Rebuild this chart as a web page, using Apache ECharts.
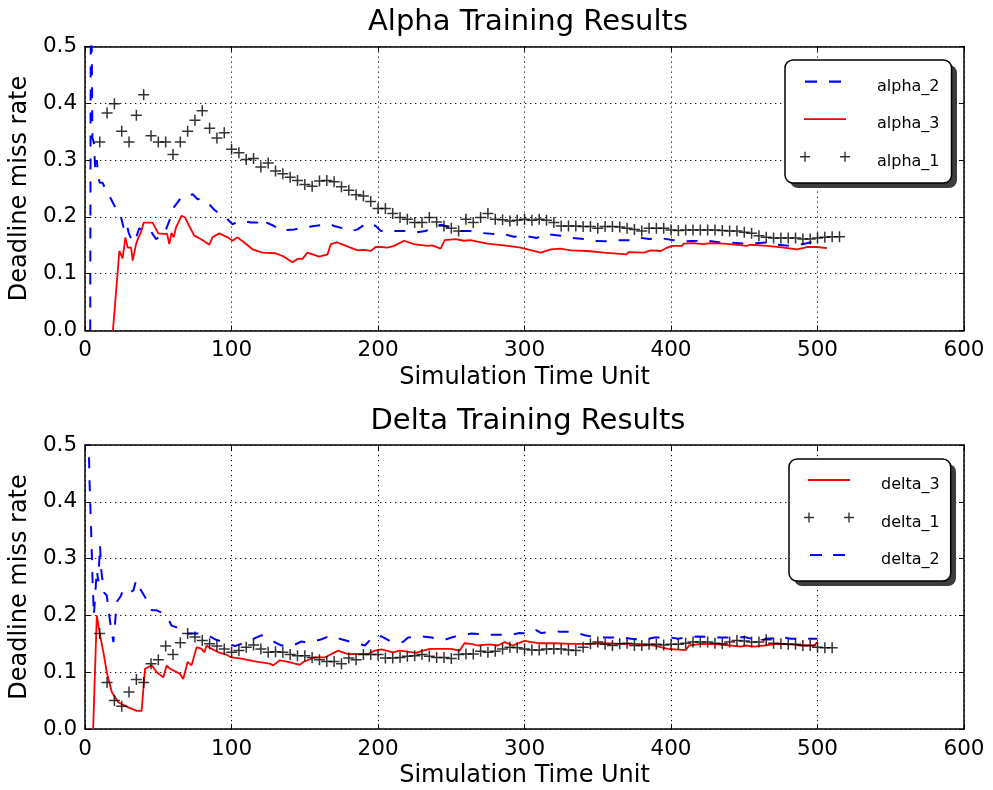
<!DOCTYPE html>
<html>
<head>
<meta charset="utf-8">
<script src="https://cdn.jsdelivr.net/npm/echarts@6/dist/echarts.min.js"></script>
<style>
  html, body { margin: 0; padding: 0; background: #fff; }
  #chart { width: 993px; height: 790px; }
</style>
</head>
<body>
<div id="chart"></div>
<script>
// ---------- Alpha run ----------
const alpha1Time = [
  10, 15, 20, 25, 30, 35, 40, 45, 50, 55,
  60, 65, 70, 75, 80, 85, 90, 95, 100, 105,
  110, 115, 120, 125, 130, 135, 140, 145, 150, 155,
  160, 165, 170, 175, 180, 185, 190, 195, 200, 205,
  210, 215, 220, 225, 230, 235, 240, 245, 250, 255,
  260, 265, 270, 275, 280, 285, 290, 295, 300, 305,
  310, 315, 320, 325, 330, 335, 340, 345, 350, 355,
  360, 365, 370, 375, 380, 385, 390, 395, 400, 405,
  410, 415, 420, 425, 430, 435, 440, 445, 450, 455,
  460, 465, 470, 475, 480, 485, 490, 495, 500, 505,
  510, 515
];
const alpha1Rate = [
  0.332, 0.383, 0.399, 0.351, 0.332, 0.379, 0.415, 0.343, 0.332, 0.332,
  0.310, 0.332, 0.351, 0.370, 0.387, 0.356, 0.339, 0.348, 0.319, 0.313,
  0.301, 0.303, 0.288, 0.295, 0.281, 0.276, 0.270, 0.264, 0.257, 0.254,
  0.263, 0.264, 0.262, 0.253, 0.247, 0.239, 0.237, 0.227, 0.215, 0.215,
  0.206, 0.199, 0.196, 0.190, 0.190, 0.199, 0.191, 0.184, 0.180, 0.175,
  0.196, 0.190, 0.199, 0.206, 0.196, 0.195, 0.193, 0.194, 0.196, 0.194,
  0.196, 0.194, 0.190, 0.184, 0.184, 0.184, 0.183, 0.183, 0.180, 0.183,
  0.183, 0.182, 0.180, 0.178, 0.175, 0.180, 0.180, 0.180, 0.177, 0.176,
  0.177, 0.177, 0.177, 0.177, 0.177, 0.176, 0.175, 0.175, 0.173, 0.171,
  0.167, 0.164, 0.163, 0.163, 0.163, 0.163, 0.161, 0.161, 0.163, 0.164,
  0.165, 0.165
];
// [time, miss rate]
const alpha2 = [
  [3.5, 0], [4, 0.7], [5, 0.34], [6, 0.33], [7, 0.28], [8, 0.30], [9, 0.27], [10, 0.26],
  [12, 0.26], [14.5, 0.245], [17, 0.235], [19, 0.225], [22, 0.21], [24, 0.205], [26.4, 0.18],
  [28, 0.19], [30, 0.17], [32.5, 0.155], [35, 0.165], [37, 0.18], [40, 0.175], [44, 0.178],
  [48.4, 0.161], [51, 0.165], [54, 0.17], [57.5, 0.193], [60, 0.215], [63, 0.225], [65.5, 0.234],
  [70, 0.235], [73.4, 0.240], [76.8, 0.231], [80, 0.232], [84.8, 0.222], [88, 0.213], [92, 0.205],
  [96, 0.199], [100.7, 0.187], [105, 0.193], [108, 0.193], [113, 0.19], [117.7, 0.19], [120, 0.198],
  [124, 0.19], [129, 0.184], [133.6, 0.175], [138, 0.177], [142.7, 0.178], [147, 0.18], [152, 0.182],
  [156.4, 0.184], [157, 0.187], [162, 0.186], [166.6, 0.188], [170, 0.184], [176, 0.18], [181.4, 0.175],
  [186, 0.178], [192.7, 0.19], [198.4, 0.184], [202, 0.175], [207.5, 0.178], [212, 0.175], [218, 0.175],
  [224.5, 0.172], [232.5, 0.175], [238, 0.184], [243.6, 0.186], [249, 0.181], [256.4, 0.175], [263, 0.175],
  [269, 0.172], [279, 0.17], [282.5, 0.172], [292.7, 0.165], [299.5, 0.167], [308.6, 0.163], [313, 0.170],
  [324.5, 0.167], [331.4, 0.163], [340.4, 0.161], [346, 0.158], [356.4, 0.157], [361, 0.159], [372.5, 0.159],
  [377, 0.164], [385, 0.161], [392, 0.163], [401.8, 0.159], [408.6, 0.157], [417.7, 0.158], [422, 0.159],
  [433.6, 0.155], [440.4, 0.155], [448.4, 0.153], [454, 0.153], [465.7, 0.155], [472.3, 0.151], [481.4, 0.149],
  [488, 0.151], [495, 0.155], [503, 0.158]
];
const alpha3 = [
  [19, 0], [23.4, 0.14], [25.6, 0.127], [27.5, 0.164], [29.1, 0.146], [31.4, 0.146], [32.5, 0.123],
  [34.8, 0.152], [36.4, 0.164], [38.2, 0.173], [40, 0.19], [42.7, 0.19], [46, 0.19], [50, 0.171],
  [54, 0.17], [56, 0.17], [57.5, 0.152], [59, 0.172], [60.5, 0.164], [62, 0.181], [63.6, 0.19],
  [65.9, 0.202], [68.2, 0.199], [71.1, 0.184], [74.5, 0.167], [79, 0.161], [84.8, 0.151], [87, 0.164],
  [91.6, 0.171], [97.3, 0.164], [100.7, 0.158], [104, 0.164], [108.6, 0.155], [114.3, 0.143], [121, 0.137],
  [130, 0.136], [135.8, 0.130], [141.6, 0.12], [145, 0.126], [148.4, 0.126], [151.8, 0.137], [159.8, 0.13],
  [165.5, 0.134], [167.7, 0.152], [172.3, 0.155], [179, 0.148], [186, 0.141], [190.4, 0.142], [195, 0.14],
  [198.4, 0.147], [202, 0.147], [206.5, 0.146], [211, 0.149], [217.7, 0.158], [224.5, 0.152], [233.6, 0.149],
  [237, 0.150], [242.7, 0.144], [245.5, 0.159], [253, 0.161], [258.6, 0.158], [263, 0.159], [274.5, 0.153],
  [286, 0.15], [297.3, 0.146], [311, 0.137], [318, 0.143], [324.5, 0.144], [331.4, 0.141], [343, 0.14],
  [354, 0.137], [369.5, 0.134], [371, 0.138], [381.6, 0.137], [386, 0.141], [393, 0.14], [397.5, 0.146],
  [400.7, 0.149], [407.5, 0.149], [408.6, 0.153], [415.4, 0.154], [422.3, 0.152], [426.8, 0.154], [436, 0.153],
  [440.4, 0.152], [451.8, 0.149], [454, 0.151], [465.7, 0.149], [477, 0.146], [486, 0.143], [492.8, 0.147],
  [499.6, 0.147], [506.4, 0.145]
];

// ---------- Delta run ----------
const delta1Time = [
  10, 15, 20, 25, 30, 35, 40, 45, 50, 55,
  60, 65, 70, 75, 80, 85, 90, 95, 100, 105,
  110, 115, 120, 125, 130, 135, 140, 145, 150, 155,
  160, 165, 170, 175, 180, 185, 190, 195, 200, 205,
  210, 215, 220, 225, 230, 235, 240, 245, 250, 255,
  260, 265, 270, 275, 280, 285, 290, 295, 300, 305,
  310, 315, 320, 325, 330, 335, 340, 345, 350, 355,
  360, 365, 370, 375, 380, 385, 390, 395, 400, 405,
  410, 415, 420, 425, 430, 435, 440, 445, 450, 455,
  460, 465, 470, 475, 480, 485, 490, 495, 500, 505,
  510
];
const delta1Rate = [
  0.168, 0.082, 0.050, 0.040, 0.065, 0.087, 0.082, 0.115, 0.122, 0.146,
  0.131, 0.152, 0.168, 0.162, 0.156, 0.150, 0.146, 0.141, 0.135, 0.138,
  0.144, 0.148, 0.141, 0.135, 0.136, 0.135, 0.131, 0.129, 0.129, 0.126,
  0.122, 0.119, 0.119, 0.115, 0.125, 0.122, 0.131, 0.131, 0.131, 0.125,
  0.125, 0.126, 0.128, 0.129, 0.131, 0.128, 0.126, 0.126, 0.124, 0.131,
  0.132, 0.132, 0.137, 0.135, 0.137, 0.141, 0.144, 0.143, 0.141, 0.139,
  0.139, 0.141, 0.141, 0.141, 0.139, 0.138, 0.144, 0.150, 0.153, 0.149,
  0.147, 0.150, 0.151, 0.147, 0.147, 0.149, 0.149, 0.148, 0.149, 0.149,
  0.151, 0.153, 0.153, 0.153, 0.151, 0.150, 0.153, 0.156, 0.155, 0.153,
  0.153, 0.157, 0.151, 0.150, 0.149, 0.149, 0.147, 0.147, 0.144, 0.143,
  0.143
];
const delta2 = [
  [1.5, 0.6], [2.5, 0.5], [3, 0.44], [4, 0.36], [5, 0.27], [6, 0.2], [7, 0.24], [8, 0.28], [9, 0.26],
  [10.2, 0.324], [11, 0.28], [12, 0.26], [13, 0.24], [14.8, 0.235], [17, 0.19], [19.3, 0.153],
  [20.5, 0.188], [21.6, 0.224], [23.9, 0.232], [26, 0.244], [28.4, 0.247], [30.7, 0.241], [33, 0.244],
  [34.8, 0.262], [37.5, 0.247], [41, 0.232], [45.5, 0.209], [48.9, 0.209], [52, 0.205], [56.8, 0.194],
  [59, 0.182], [66, 0.176], [70.5, 0.168], [77.3, 0.168], [84, 0.165], [88.6, 0.158], [93, 0.154],
  [97.7, 0.15], [102.3, 0.146], [106.8, 0.15], [112.5, 0.156], [120.5, 0.165], [125, 0.16], [130, 0.152],
  [134, 0.147], [141, 0.146], [147.7, 0.154], [152.3, 0.152], [161.4, 0.158], [167, 0.164], [175, 0.158],
  [181.8, 0.153], [191, 0.147], [194.3, 0.156], [199, 0.165], [202.3, 0.163], [208, 0.155], [217, 0.153],
  [220.5, 0.161], [229.6, 0.163], [236.4, 0.161], [245.5, 0.157], [251.2, 0.162], [259, 0.166], [263.6, 0.168],
  [275, 0.166], [281.8, 0.166], [291, 0.166], [296.6, 0.169], [304.6, 0.168], [308, 0.174], [311.4, 0.169],
  [320.5, 0.172], [325, 0.171], [334, 0.171], [341, 0.165], [350, 0.161], [354.6, 0.161], [366, 0.161],
  [372.7, 0.159], [381.8, 0.157], [388.6, 0.161], [400, 0.161], [404.6, 0.159], [413.6, 0.162], [418, 0.163],
  [432, 0.161], [445.5, 0.161], [450, 0.162], [461.4, 0.155], [464.8, 0.159], [477.3, 0.161], [481.8, 0.159],
  [493, 0.159], [500, 0.159]
];
const delta3 = [
  [5.5, 0], [8, 0.2], [10.2, 0.165], [12.5, 0.135], [14.8, 0.1], [18.2, 0.065], [22.7, 0.047], [29.5, 0.038],
  [35.2, 0.032], [38.6, 0.032], [40.9, 0.106], [45.5, 0.112], [48.9, 0.1], [53.4, 0.091], [55.7, 0.112],
  [58, 0.106], [64.8, 0.097], [67, 0.088], [70, 0.118], [72.7, 0.112], [76.1, 0.144], [79.5, 0.141],
  [81.4, 0.135], [83, 0.147], [86.4, 0.141], [90.9, 0.135], [95.5, 0.132], [100, 0.126], [106.8, 0.124],
  [115.9, 0.119], [126, 0.115], [128.4, 0.112], [133, 0.121], [138.6, 0.118], [146.6, 0.113], [148.9, 0.118],
  [156.8, 0.126], [163.6, 0.126], [172.7, 0.138], [179.5, 0.132], [186.4, 0.132], [193.2, 0.132], [197.7, 0.138],
  [202.3, 0.14], [210.2, 0.135], [214.8, 0.138], [226, 0.134], [229.6, 0.137], [235.3, 0.141], [243.2, 0.141],
  [250, 0.141], [255.7, 0.138], [259, 0.151], [263.6, 0.15], [268, 0.147], [276, 0.149], [281.8, 0.147],
  [286.4, 0.153], [292, 0.147], [300, 0.155], [309, 0.151], [320.5, 0.151], [331.8, 0.15], [343, 0.15],
  [354.6, 0.151], [366, 0.15], [377.3, 0.15], [388.6, 0.147], [397.7, 0.141], [410, 0.139], [412.3, 0.147],
  [420.3, 0.15], [431.6, 0.149], [440.7, 0.147], [447.5, 0.145], [451, 0.147], [456.8, 0.145], [463.6, 0.147],
  [472.7, 0.15], [481.8, 0.149], [490.9, 0.147], [497.7, 0.147], [500, 0.153]
];

// ---------- axis ranges ----------
const timeMin = 0, timeMax = 600, timeStep = 100;
const rateMin = 0, rateMax = 0.5, rateStep = 0.1;

// ---------- styling ----------
const FONT = 'DejaVu Sans';
const BLUE = '#0000ff';
const RED = '#ff0000';
const BLACK = '#000000';
const SHADOW = '#3c3c3c';
const DASH = [11, 12];
const PLUS = 'path://M0,4.75H11V6.25H0Z M4.75,0H6.25V11H4.75Z';

// legend glyphs: 50 x 24 box, glyph centred at y = 7 so the label sits a little lower
const ICON_DASH_A = 'path://M0,0 M50,24 M5,5.9H17V8.1H5Z M29,5.9H41V8.1H29Z';
const ICON_DASH_D = 'path://M0,0 M50,24 M6,5.9H18V8.1H6Z M29,5.9H41V8.1H29Z';
const ICON_LINE = 'path://M0,0 M50,24 M4,6.1H46V7.9H4Z';
const ICON_PLUS = 'path://M0,0 M50,24 M0,6.3H10V7.7H0Z M4.3,2H5.7V12H4.3Z M40,6.3H50V7.7H40Z M44.3,2H45.7V12H44.3Z';

const grids = [
  { left: 83, top: 46.5, width: 881, height: 284 },
  { left: 83, top: 445, width: 881, height: 284 }
];

const gridLine = { color: BLACK, width: 1, type: [1.2, 3.8] };
const frameLine = { color: BLACK, width: 1.5 };
const tickMark = { show: true, inside: true, length: 5, lineStyle: { color: BLACK, width: 1 } };

function bottomAxis(gridIndex) {
  return {
    type: 'value', gridIndex, position: 'bottom',
    min: timeMin, max: timeMax, interval: timeStep,
    name: 'Simulation Time Unit', nameLocation: 'middle', nameGap: 35,
    nameTextStyle: { fontFamily: FONT, fontSize: 24, color: BLACK },
    axisLine: { show: true, onZero: false, lineStyle: frameLine },
    axisTick: tickMark,
    axisLabel: { show: true, margin: 9, fontFamily: FONT, fontSize: 21.5, color: BLACK },
    splitLine: { show: true, lineStyle: gridLine }
  };
}
function topAxis(gridIndex) {
  return {
    type: 'value', gridIndex, position: 'top',
    min: timeMin, max: timeMax, interval: timeStep,
    axisLine: { show: true, onZero: false, lineStyle: frameLine },
    axisTick: tickMark,
    axisLabel: { show: false },
    splitLine: { show: false }
  };
}
function leftAxis(gridIndex) {
  return {
    type: 'value', gridIndex, position: 'left',
    min: rateMin, max: rateMax, interval: rateStep,
    name: 'Deadline miss rate', nameLocation: 'middle', nameGap: 38,
    nameTextStyle: { fontFamily: FONT, fontSize: 24, color: BLACK },
    axisLine: { show: true, onZero: false, lineStyle: frameLine },
    axisTick: tickMark,
    axisLabel: { show: true, margin: 8, fontFamily: FONT, fontSize: 21.5, color: BLACK,
                 formatter: v => v.toFixed(1) },
    splitLine: { show: true, lineStyle: gridLine }
  };
}
function rightAxis(gridIndex) {
  return {
    type: 'value', gridIndex, position: 'right',
    min: rateMin, max: rateMax, interval: rateStep,
    axisLine: { show: true, onZero: false, lineStyle: frameLine },
    axisTick: tickMark,
    axisLabel: { show: false },
    splitLine: { show: false }
  };
}

function lineSeries(name, data, axis, color, dashed) {
  return {
    name, type: 'line', data,
    xAxisIndex: axis, yAxisIndex: axis,
    symbol: 'none', clip: true,
    color,
    lineStyle: { color, width: dashed ? 2 : 1.8, type: dashed ? DASH : 'solid' },
    z: 3
  };
}
function plusSeries(name, times, rates, axis) {
  return {
    name, type: 'scatter',
    data: times.map((t, i) => [t, rates[i]]),
    xAxisIndex: axis, yAxisIndex: axis,
    symbol: PLUS, symbolSize: 11, clip: true,
    color: BLACK,
    itemStyle: { color: BLACK },
    z: 3
  };
}

function legendBox(left, top, padding, items) {
  return {
    orient: 'vertical', left, top, padding,
    data: items,
    itemWidth: 50, itemHeight: 24, itemGap: 13.5,
    selectedMode: false,
    backgroundColor: '#ffffff',
    borderColor: BLACK, borderWidth: 1.5, borderRadius: 8,
    itemStyle: { borderWidth: 0 },
    textStyle: { fontFamily: FONT, fontSize: 16, lineHeight: 16, color: BLACK, padding: [0, 0, 0, 22] },
    z: 10
  };
}

// drop shadow sitting behind each legend frame
function legendShadow(x, y, w, h) {
  return { type: 'rect', z: 5, silent: true,
           shape: { x: x + 5, y: y + 5, width: w, height: h, r: 8 },
           style: { fill: SHADOW } };
}

const chart = echarts.init(document.getElementById('chart'), null, { renderer: 'canvas' });
chart.setOption({
  animation: false,
  backgroundColor: '#ffffff',
  textStyle: { fontFamily: FONT },
  grid: grids,
  xAxis: [bottomAxis(0), topAxis(0), bottomAxis(1), topAxis(1)],
  yAxis: [leftAxis(0), rightAxis(0), leftAxis(1), rightAxis(1)],
  legend: [
    legendBox(785, 60, [14.7, 12, 9.3, 15], [
      { name: 'alpha_2', icon: ICON_DASH_A },
      { name: 'alpha_3', icon: ICON_LINE },
      { name: 'alpha_1', icon: ICON_PLUS }
    ]),
    legendBox(789, 459, [14, 11, 9, 15], [
      { name: 'delta_3', icon: ICON_LINE },
      { name: 'delta_1', icon: ICON_PLUS },
      { name: 'delta_2', icon: ICON_DASH_D }
    ])
  ],
  graphic: [
    legendShadow(785, 60, 167, 123),
    legendShadow(789, 459, 162, 122),
    { type: 'text', x: 528, y: 22.5, silent: true,
      style: { text: 'Alpha Training Results', font: '29px "DejaVu Sans"', fill: BLACK,
               textAlign: 'center', textVerticalAlign: 'middle' } },
    { type: 'text', x: 528, y: 421, silent: true,
      style: { text: 'Delta Training Results', font: '29px "DejaVu Sans"', fill: BLACK,
               textAlign: 'center', textVerticalAlign: 'middle' } }
  ],
  series: [
    lineSeries('alpha_2', alpha2, 0, BLUE, true),
    lineSeries('alpha_3', alpha3, 0, RED, false),
    plusSeries('alpha_1', alpha1Time, alpha1Rate, 0),
    lineSeries('delta_3', delta3, 2, RED, false),
    plusSeries('delta_1', delta1Time, delta1Rate, 2),
    lineSeries('delta_2', delta2, 2, BLUE, true)
  ]
});
</script>
</body>
</html>
